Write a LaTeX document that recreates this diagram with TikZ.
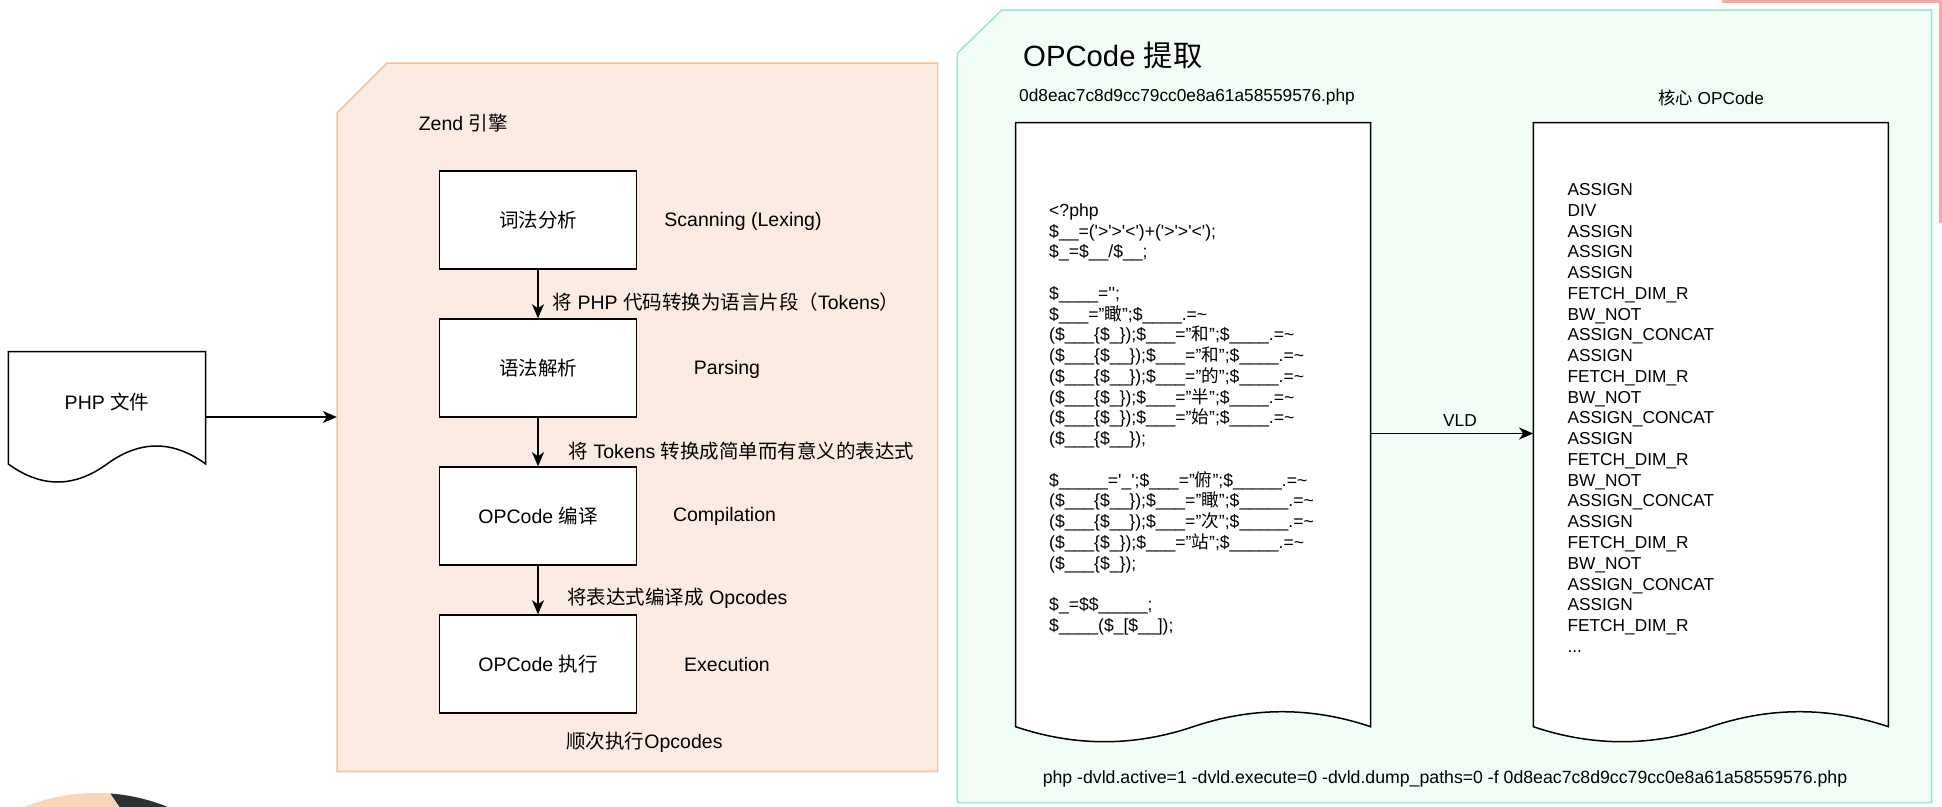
\documentclass[tikz,border=0pt]{standalone}
\usepackage{fontspec}
\setmainfont{Liberation Sans}
\newfontfamily\cjk{Noto Sans CJK SC}
\usetikzlibrary{arrows.meta}
\newcommand\zh[1]{{\cjk #1}}
\newcommand\sq{\textquotesingle}
\newcommand\tild{\textasciitilde}
\newcommand\ltxt{\fontsize{19.5}{23.4}\selectfont}
\newcommand\stxt{\fontsize{17.3}{20.76}\selectfont}
\newcommand\ctxt{\fontsize{17.6}{20.76}\selectfont}
\newcommand\mtxt{\fontsize{17.7}{21}\selectfont}
\newcommand\ttxt{\fontsize{29.3}{35}\selectfont}
\definecolor{peachfill}{HTML}{FBEBE3}
\definecolor{peachline}{HTML}{F6C29B}
\definecolor{mintfill}{HTML}{F2FDF5}
\definecolor{mintline}{HTML}{97E6CF}
\definecolor{pinkline}{HTML}{F3AAA3}
\definecolor{piepeach}{HTML}{F9D7B4}
\definecolor{piedark}{HTML}{2E3134}
\begin{document}
\begin{tikzpicture}[x=1pt,y=-1pt,
  stepbox/.style={draw=black, fill=white, line width=1.5pt, minimum width=197pt, minimum height=98pt, inner sep=0pt, font=\ltxt},
  arr/.style={draw=black, line width=1.5pt, -{Stealth[length=14pt,width=12pt,inset=4pt]}},
  docshape/.style={draw=black, fill=white, line width=1.5pt},
  ghost/.style={inner sep=0pt, draw=none},
  ltext/.style={inner sep=0pt, font=\ltxt},
  stext/.style={inner sep=0pt, font=\stxt}]
\fill[white] (0,0) rectangle (1942,806);
\useasboundingbox (0,0) rectangle (1942,806);

% partial pie at bottom-left
\begin{scope}
  \clip (0,0) rectangle (1942,806);
  \fill[piepeach] (96,983) circle[radius=190];
  \clip (96,983) circle[radius=190];
  \fill[piedark] (105.2,786) -- (120,807.5) -- (320,807.5) -- (320,786) -- cycle;
\end{scope}

% pink partial frame top right
\draw[pinkline, line width=2.5pt] (1722,1.5) -- (1940.5,1.5) -- (1940.5,223);

% Zend container
\path[draw=peachline, fill=peachfill, line width=1.5pt]
  (337,113) -- (387,63) -- (937.5,63) -- (937.5,771.6) -- (337,771.6) -- cycle;
\node[ghost, minimum width=600.5pt, minimum height=708.6pt] (zend) at (637.25,417.3) {};

% OPCode container
\path[draw=mintline, fill=mintfill, line width=1.5pt]
  (957.3,53.3) -- (1001.7,10) -- (1931.5,10) -- (1931.5,802.7) -- (957.3,802.7) -- cycle;

% PHP file document
\path[docshape] (8.3,351.7) -- (205.7,351.7) -- (205.7,464)
  .. controls (172.8,440) and (139.9,440) .. (107,464)
  .. controls (74.1,488) and (41.2,488) .. (8.3,464) -- cycle;
\node[ghost, minimum width=197.4pt, minimum height=130.6pt] (php) at (107,417) {};
\node[ltext] (phplabel) at (107,402) {PHP \zh{文件}};

\draw[arr] (php.east) -- (php.east -| zend.west);

% Zend engine contents
\node[ltext, anchor=west] (zendtitle) at (418.6,122.6) {Zend \zh{引擎}};
\node[stepbox] (b1) at (538,220) {\zh{词法分析}};
\node[stepbox] (b2) at (538,368) {\zh{语法解析}};
\node[stepbox] (b3) at (538,516) {OPCode \zh{编译}};
\node[stepbox] (b4) at (538,664) {OPCode \zh{执行}};

\node[ltext] (e1) at (743,221.7) {Scanning (Lexing)};
\node[ltext] (e2) at (727,369) {Parsing};
\node[ltext] (e3) at (724.5,516.5) {Compilation};
\node[ltext] (e4) at (727,665) {Execution};

\draw[arr] (b1.south) -- (b2.north);
\draw[arr] (b2.south) -- (b3.north);
\draw[arr] (b3.south) -- (b4.north);

\node[ltext, anchor=west] (l1) at (552.4,302.2) {\zh{将} PHP \zh{代码转换为语言片段（}Tokens\zh{）}};
\node[ltext, anchor=west] (l2) at (568.5,450.8) {\zh{将} Tokens \zh{转换成简单而有意义的表达式}};
\node[ltext, anchor=west] (l3) at (567.2,598.2) {\zh{将表达式编译成} Opcodes};
\node[ltext] (l4) at (644.5,742) {\zh{顺次执行}Opcodes};

% OPCode extraction contents
\node[inner sep=0pt, font=\ttxt, anchor=west] (optitle) at (1023,55) {OPCode \zh{提取}};
\node[stext] (fname) at (1187,97) {0d8eac7c8d9cc79cc0e8a61a58559576.php};
\node[stext] (coretitle) at (1711,98) {\zh{核心} OPCode};

\path[docshape] (1015.6,122.6) -- (1370.7,122.6) -- (1370.7,726.7)
  .. controls (1311.5,706.7) and (1252.3,706.7) .. (1193.15,726.7)
  .. controls (1134,746.7) and (1074.8,746.7) .. (1015.6,726.7) -- cycle;
\node[ghost, minimum width=355.1pt, minimum height=621.8pt] (code) at (1193.15,433.5) {};

\path[docshape] (1533.3,122.6) -- (1888.4,122.6) -- (1888.4,726.7)
  .. controls (1829.2,706.7) and (1770,706.7) .. (1710.85,726.7)
  .. controls (1651.7,746.7) and (1592.5,746.7) .. (1533.3,726.7) -- cycle;
\node[ghost, minimum width=355.1pt, minimum height=621.8pt] (ops) at (1710.85,433.5) {};

\node[inner sep=0pt, font=\ctxt, anchor=west, align=left] (codetext) at (1049,419.3) {%
<?php\\
\$\_\_=(\sq>\sq>\sq<\sq)+(\sq>\sq>\sq<\sq);\\
\$\_=\$\_\_/\$\_\_;\\
\mbox{}\\
\$\_\_\_\_=\sq\sq;\\
\$\_\_\_="\zh{瞰}";\$\_\_\_\_.=\tild\\
(\$\_\_\_\{\$\_\});\$\_\_\_="\zh{和}";\$\_\_\_\_.=\tild\\
(\$\_\_\_\{\$\_\_\});\$\_\_\_="\zh{和}";\$\_\_\_\_.=\tild\\
(\$\_\_\_\{\$\_\_\});\$\_\_\_="\zh{的}";\$\_\_\_\_.=\tild\\
(\$\_\_\_\{\$\_\});\$\_\_\_="\zh{半}";\$\_\_\_\_.=\tild\\
(\$\_\_\_\{\$\_\});\$\_\_\_="\zh{始}";\$\_\_\_\_.=\tild\\
(\$\_\_\_\{\$\_\_\});\\
\mbox{}\\
\$\_\_\_\_\_=\sq\_\sq;\$\_\_\_="\zh{俯}";\$\_\_\_\_\_.=\tild\\
(\$\_\_\_\{\$\_\_\});\$\_\_\_="\zh{瞰}";\$\_\_\_\_\_.=\tild\\
(\$\_\_\_\{\$\_\_\});\$\_\_\_="\zh{次}";\$\_\_\_\_\_.=\tild\\
(\$\_\_\_\{\$\_\});\$\_\_\_="\zh{站}";\$\_\_\_\_\_.=\tild\\
(\$\_\_\_\{\$\_\});\\
\mbox{}\\
\$\_=\$\$\_\_\_\_\_;\\
\$\_\_\_\_(\$\_[\$\_\_]);};

\node[stext, anchor=west, align=left] (optext) at (1567.3,417.9) {%
ASSIGN\\ DIV\\ ASSIGN\\ ASSIGN\\ ASSIGN\\ FETCH\_DIM\_R\\ BW\_NOT\\ ASSIGN\_CONCAT\\
ASSIGN\\ FETCH\_DIM\_R\\ BW\_NOT\\ ASSIGN\_CONCAT\\ ASSIGN\\ FETCH\_DIM\_R\\ BW\_NOT\\ ASSIGN\_CONCAT\\
ASSIGN\\ FETCH\_DIM\_R\\ BW\_NOT\\ ASSIGN\_CONCAT\\ ASSIGN\\ FETCH\_DIM\_R\\ ...};

\draw[arr] (code.east) -- (code.east -| ops.west);
\node[stext] (vld) at (1460,421) {VLD};

\node[inner sep=0pt, font=\mtxt] (cmd) at (1445,779) {php -dvld.active=1 -dvld.execute=0 -dvld.dump\_paths=0 -f 0d8eac7c8d9cc79cc0e8a61a58559576.php};
\end{tikzpicture}
\end{document}
